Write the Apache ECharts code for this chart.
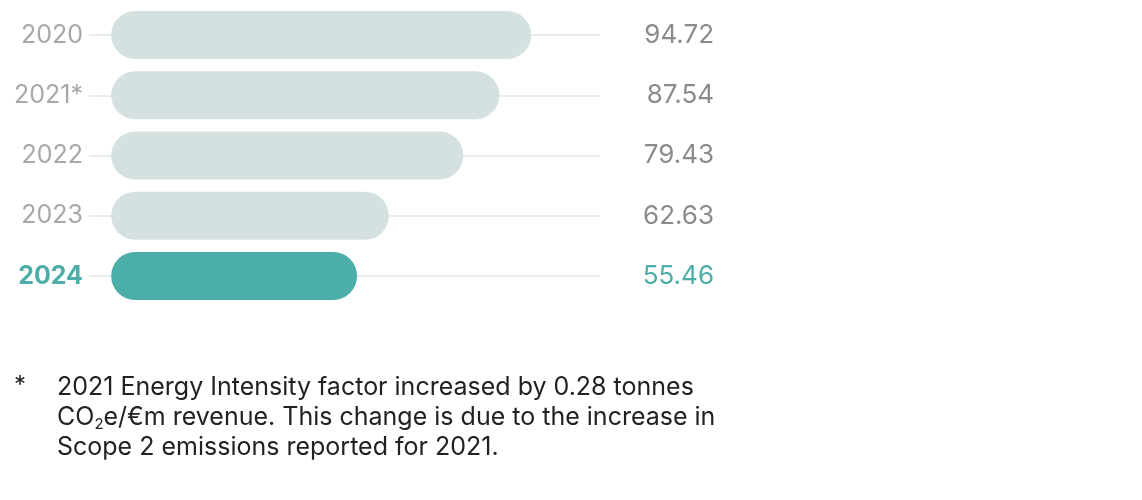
<!DOCTYPE html>
<html><head><meta charset="utf-8">
<script src="https://cdn.jsdelivr.net/npm/echarts@6/dist/echarts.min.js"></script>
<style>html,body{margin:0;padding:0;background:#fff}#c{width:1142px;height:500px}</style>
</head><body><div id="c"></div>
<script>
const years = ['2020', '2021*', '2022', '2023', '2024'];
const values = [94.72, 87.54, 79.43, 62.63, 55.46];
const highlightYear = '2024';
const footnoteLines = [
  '2021 Energy Intensity factor increased by 0.28 tonnes',
  'CO{sub|2}e/€m revenue. This change is due to the increase in',
  'Scope 2 emissions reported for 2021.'
];

const GREY_BAR = '#d5e1e1', TEAL = '#4caea9', LINE = '#dde7e7';
const FONT = 'Inter';
const chart = echarts.init(document.getElementById('c'), null, {renderer: 'canvas'});
chart.setOption({
  animation: false,
  title: [
    {text: '*', left: 14, top: 374, padding: 0, textStyle: {fontFamily: FONT, fontSize: 24, fontWeight: 'normal', color: '#222'}},
    {text: footnoteLines.join('\n'), left: 57, top: 372, padding: 0,
     textStyle: {fontFamily: FONT, fontSize: 25, fontWeight: 'normal', color: '#222', lineHeight: 30,
       rich: {sub: {fontFamily: FONT, fontSize: 15, verticalAlign: 'bottom', padding: [16, 0, 0, 0], color: '#222', lineHeight: 30}}}}
  ],
  grid: {left: 89, right: 542, top: 35, bottom: 224, containLabel: false},
  xAxis: {type: 'value', min: -5, max: 110.24, show: false},
  yAxis: [
    {type: 'category', data: years, inverse: true, boundaryGap: false,
     axisLine: {show: false}, axisTick: {show: false},
     splitLine: {show: true, lineStyle: {color: LINE, width: 1.5}},
     axisLabel: {margin: 6, fontFamily: FONT, fontSize: 25,
       color: '#aaa7a7',
       rich: {hl: {fontFamily: FONT, fontSize: 25, fontWeight: 'bold', color: TEAL}},
       formatter: v => v === highlightYear ? '{hl|' + v + '}' : v}},
    {type: 'category', data: years, inverse: true, boundaryGap: false, position: 'right',
     axisLine: {show: false}, axisTick: {show: false}, splitLine: {show: false},
     axisLabel: {margin: 114, align: 'right', fontFamily: FONT, fontSize: 26, color: '#8b8b8b',
       rich: {hl: {fontFamily: FONT, fontSize: 26, color: TEAL}},
       formatter: (v, i) => v === highlightYear ? '{hl|' + values[i].toFixed(2) + '}' : values[i].toFixed(2)}}
  ],
  series: [{
    type: 'bar', clip: false, barWidth: 48,
    data: values.map((v, i) => ({value: v, itemStyle: {color: years[i] === highlightYear ? TEAL : GREY_BAR}})),
    itemStyle: {borderRadius: 24}
  }]
});
</script></body></html>
